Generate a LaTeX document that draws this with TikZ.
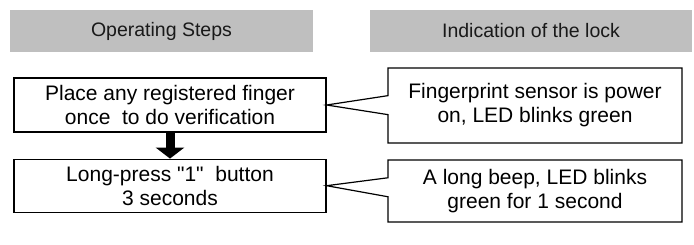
\documentclass[tikz,border=0pt]{standalone}
\usepackage{fontspec}
\setmainfont{Liberation Sans}[Ligatures=TeXOff]
\usetikzlibrary{arrows.meta,positioning,shapes.callouts}

\begin{document}
\begin{tikzpicture}[
  x=0.5pt, y=-0.5pt,
  node distance=13pt,
  header/.style={fill=black!25,text=black!90,minimum height=21pt,inner sep=0pt,
    font=\fontsize{9.75}{12}\selectfont},
  stepbox/.style={draw,line width=.6pt,minimum width=156pt,minimum height=27pt,
    inner sep=0pt,align=center,font=\fontsize{10.5}{12}\selectfont},
  lockbox/.style={rectangle callout,draw,line width=.6pt,minimum width=147pt,
    inner sep=0pt,align=center,callout pointer width=9.5pt,
    font=\fontsize{10.5}{12}\selectfont}
]
  \useasboundingbox (0,0) rectangle (694,245);

  \node[header,minimum width=151.5pt] (opsteps) at (161.5,31) {Operating Steps};
  \node[header,minimum width=161pt] (lockind) at (531,31) {Indication of the lock};

  \node[stepbox] (step1) at (170,105) {Place any registered finger\\once~ to do verification};
  \node[stepbox,below=of step1,minimum height=26.5pt] (step2) {Long-press "1"~ button\\3 seconds};

  \node[lockbox,minimum height=37.5pt,callout absolute pointer={(step1.east)}]
    (lock1) at (535,105.5) {Fingerprint sensor is power\\on, LED blinks green};
  \node[lockbox,minimum height=31pt,callout absolute pointer={(step2.east)}]
    (lock2) at (535,191) {A long beep, LED blinks\\green for 1 second};

  \draw[line width=4.5pt,-{Triangle[width=14pt,length=5.5pt]}] (step1) -- (step2);
\end{tikzpicture}
\end{document}
